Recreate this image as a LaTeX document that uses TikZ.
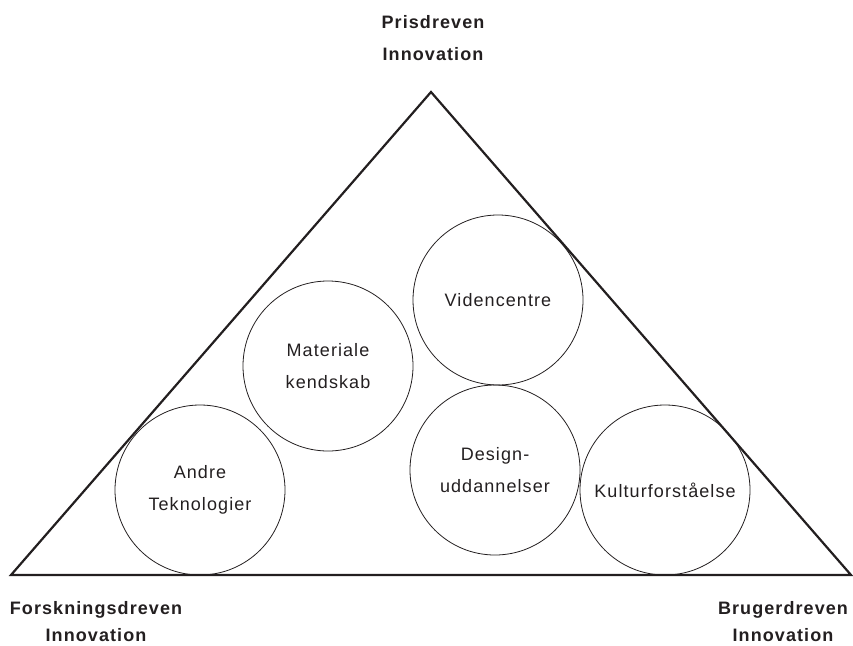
\documentclass[tikz,border=0pt]{standalone}
\usepackage{fontspec}
\setmainfont{Liberation Sans}[LetterSpace=6]
\definecolor{ink}{RGB}{35,31,32}
\newcommand{\fieldfont}{\fontsize{18}{32}\selectfont}
\newcommand{\polefont}{\fontsize{18}{32}\selectfont\bfseries}
\newcommand{\polefontlow}{\fontsize{18}{27}\selectfont\bfseries}
\tikzset{
  field/.style={circle, draw=ink, line width=0.8pt, minimum size=170pt,
    inner sep=0pt, align=center, text=ink, font=\fieldfont},
  pole/.style={align=center, text=ink, inner sep=0pt, text depth=0pt, font=\polefont},
}
\begin{document}
\begin{tikzpicture}[x=1pt, y=-1pt]
    \useasboundingbox (0, 0) rectangle (853, 645);

    % triangle
    \coordinate (apex) at (431, 92);
    \coordinate (baseL) at (11, 575);
    \coordinate (baseR) at (851, 575);
    \draw[ink, line width=2.2pt] (apex) -- (baseR) -- (baseL) -- cycle;

    % circles
    \node[field] (andre) at (200, 490) {Andre\\Teknologier};
    \node[field] (materiale) at (328, 366) {Materiale\\kendskab};
    \node[field] (viden) at (498, 300) {Videncentre};
    \node[field] (design) at (495, 470) {Design-\\uddannelser};
    \node[field] (kultur) at (665, 490) {Kulturforståelse};

    % corner labels
    \node[pole] (pris) at (433, 38) {Prisdreven\\Innovation};
    \node[pole, font=\polefontlow] (forsk) at (96, 621) {Forskningsdreven\\Innovation};
    \node[pole, font=\polefontlow] (bruger) at (783, 621) {Brugerdreven\\Innovation};
\end{tikzpicture}
\end{document}
